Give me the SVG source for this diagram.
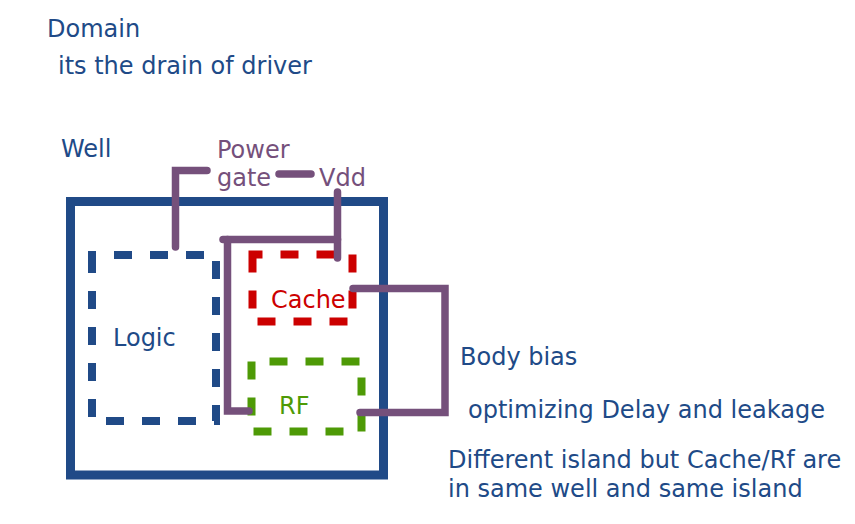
<svg xmlns="http://www.w3.org/2000/svg" width="855" height="524" viewBox="0 0 855 524">
<style>
text { font-family: "DejaVu Sans", "Liberation Sans", sans-serif; font-size: 24px; }
.blue { fill: #204a87; }
.purple { fill: #75507b; }
.red { fill: #cc0000; }
.green { fill: #4e9a06; }
.dash { fill: none; stroke-width: 8; stroke-dasharray: 18 18; stroke-linecap: butt; }
.wire { fill: none; stroke: #75507b; stroke-width: 7.5; stroke-linecap: round; stroke-linejoin: miter; }
</style>
<rect width="855" height="524" fill="#ffffff"/>
<g id="notes">
<text class="blue" x="47" y="37">Domain</text>
<text class="blue" x="58" y="74">its the drain of driver</text>
</g>
<g id="well">
<rect x="70.5" y="201.5" width="313" height="273.5" fill="none" stroke="#204a87" stroke-width="9"/>
<text class="blue" x="61" y="157">Well</text>
</g>
<g id="logic">
<path class="dash" d="M92,255 V421 H216 V255 Z" stroke="#204a87"/>
<text class="blue" x="113" y="346">Logic</text>
</g>
<g id="cache">
<path class="dash" d="M252.5,254.5 V321.5 H352.5 V254.5 Z" stroke="#cc0000"/>
<text class="red" x="271" y="308">Cache</text>
</g>
<g id="rf">
<path class="dash" d="M251.5,361.5 V431.5 H361.5 V361.5 Z" stroke="#4e9a06"/>
<text class="green" x="279" y="414">RF</text>
</g>
<g id="power-gate">
<text class="purple" x="217" y="158">Power</text>
<text class="purple" x="217" y="186">gate</text>
</g>
<g id="vdd">
<text class="purple" x="319" y="186">Vdd</text>
</g>
<g id="body-bias">
<text class="blue" x="460" y="365">Body bias</text>
<text class="blue" x="468" y="418">optimizing Delay and leakage</text>
</g>
<g id="island-note">
<text class="blue" x="448" y="468">Different island but Cache/Rf are</text>
<text class="blue" x="448" y="497">in same well and same island</text>
</g>
<g id="connectors">
<path class="wire" d="M175.5,247 V170.5 H207"/>
<path class="wire" d="M279,174 H311"/>
<path class="wire" d="M337.5,192 V258"/>
<path class="wire" d="M223,239.5 H337.5"/>
<path class="wire" d="M227.5,239.5 V411 H249"/>
<path class="wire" d="M353,288.5 H445 V412.5 H360"/>
</g>
</svg>
